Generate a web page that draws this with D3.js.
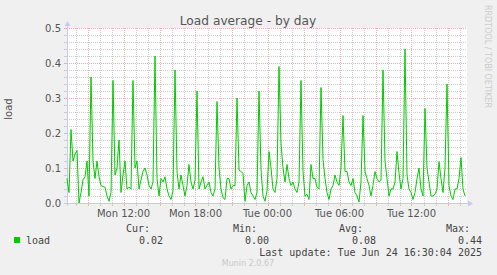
<!DOCTYPE html>
<html>
<head>
<meta charset="utf-8">
<script src="https://cdn.jsdelivr.net/npm/d3@7"></script>
<style>
  body { margin: 0; background: #f0f0f0; }
  svg { display: block; }
</style>
</head>
<body>
<script>
// load samples, one every 10 minutes
var loadValues = [
  0.07, 0.03, 0.21, 0.12, 0.14, 0.15, 0.00, 0.03, 0.066, 0.075,
  0.12, 0.02, 0.36, 0.12, 0.07, 0.12, 0.075, 0.05, 0.047, 0.045,
  0.02, 0.005, 0.03, 0.35, 0.08, 0.10, 0.18, 0.03, 0.08, 0.12,
  0.04, 0.045, 0.04, 0.35, 0.10, 0.12, 0.04, 0.066, 0.09, 0.10,
  0.08, 0.05, 0.04, 0.06, 0.42, 0.07, 0.02, 0.07, 0.06, 0.075,
  0.04, 0.02, 0.01, 0.035, 0.38, 0.09, 0.04, 0.08, 0.05, 0.02,
  0.05, 0.11, 0.06, 0.04, 0.065, 0.32, 0.04, 0.06, 0.075, 0.04,
  0.05, 0.06, 0.03, 0.02, 0.04, 0.29, 0.10, 0.04, 0.015, 0.01,
  0.07, 0.07, 0.04, 0.05, 0.05, 0.30, 0.094, 0.09, 0.085, 0.005,
  0.05, 0.06, 0.03, 0.02, 0.01, 0.03, 0.32, 0.095, 0.02, 0.005,
  0.035, 0.147, 0.10, 0.04, 0.03, 0.07, 0.39, 0.17, 0.10, 0.06,
  0.11, 0.07, 0.05, 0.06, 0.04, 0.03, 0.06, 0.35, 0.09, 0.02,
  0.025, 0.01, 0.11, 0.07, 0.07, 0.045, 0.04, 0.33, 0.125, 0.07,
  0.03, 0.01, 0.04, 0.05, 0.08, 0.06, 0.05, 0.10, 0.25, 0.09,
  0.09, 0.06, 0.05, 0.07, 0.03, 0.02, 0.003, 0.06, 0.25, 0.09,
  0.07, 0.05, 0.02, 0.05, 0.09, 0.07, 0.06, 0.065, 0.38, 0.12,
  0.07, 0.02, 0.04, 0.04, 0.06, 0.147, 0.085, 0.04, 0.07, 0.44,
  0.08, 0.04, 0.03, 0.01, 0.03, 0.07, 0.10, 0.04, 0.02, 0.27,
  0.10, 0.06, 0.02, 0.02, 0.025, 0.04, 0.118, 0.07, 0.03, 0.10,
  0.34, 0.05, 0.02, 0.01, 0.04, 0.04, 0.07, 0.13, 0.04, 0.02
];
var yTicks = [0, 0.1, 0.2, 0.3, 0.4, 0.5];
var legendHeads = ["Cur:", "Min:", "Avg:", "Max:"];
var legendValues = ["0.02", "0.00", "0.08", "0.44"];
var seriesName = "load";
var lastUpdate = "Last update: Tue Jun 24 16:30:04 2025";

var startTime = Date.UTC(2025, 5, 23, 7, 17, 30);
var stepMs = 10 * 60 * 1000;

var W = 497, H = 275;
var X0 = 67, X1 = 467, Y0 = 203, Y1 = 28;

var svg = d3.select("body").append("svg")
    .attr("width", W).attr("height", H)
    .style("font-family", "'DejaVu Sans', sans-serif");

svg.append("rect").attr("width", W).attr("height", H).attr("fill", "#f0f0f0");

var x = d3.scaleUtc()
    .domain([new Date(startTime), new Date(startTime + loadValues.length * stepMs)])
    .range([X0, X1]);
var y = d3.scaleLinear().domain([0, 0.5]).range([Y0, Y1]);

// canvas
svg.append("rect")
    .attr("x", X0).attr("y", Y1)
    .attr("width", X1 - X0).attr("height", Y0 - Y1)
    .attr("fill", "#ffffff");

var minorCol = "#cccccc", majorCol = "#e8b0b0";
var grid = svg.append("g").attr("shape-rendering", "crispEdges");

// vertical grid: minor every hour, major every 3 hours
var hours = x.ticks(d3.utcHour.every(1));
hours.forEach(function (t) {
    var major = t.getUTCHours() % 3 === 0;
    var px = Math.round(x(t)) + 0.5;
    grid.append("line")
        .attr("x1", px).attr("x2", px).attr("y1", Y1).attr("y2", Y0)
        .attr("stroke", major ? majorCol : minorCol)
        .attr("stroke-dasharray", "1,1");
    grid.append("line")
        .attr("x1", px).attr("x2", px).attr("y1", Y0).attr("y2", Y0 + 3)
        .attr("stroke", major ? majorCol : minorCol);
});

// horizontal grid: minor every 0.02, major every 0.1
d3.range(0, 26).forEach(function (k) {
    var v = k * 0.02;
    var major = k % 5 === 0;
    var py = Math.round(y(v)) + 0.5;
    grid.append("line")
        .attr("x1", X0).attr("x2", X1).attr("y1", py).attr("y2", py)
        .attr("stroke", major ? majorCol : minorCol)
        .attr("stroke-dasharray", "1,1");
    grid.append("line")
        .attr("x1", X0 - 3).attr("x2", X0).attr("y1", py).attr("y2", py)
        .attr("stroke", major ? majorCol : minorCol);
});

// axes
var axisCol = "#c8c8f4";
svg.append("line")
    .attr("x1", X0 + 0.5).attr("x2", X0 + 0.5).attr("y1", Y0 + 3).attr("y2", Y1 - 2)
    .attr("stroke", axisCol).attr("shape-rendering", "crispEdges");
svg.append("line")
    .attr("x1", X0 - 3).attr("x2", X1 + 1).attr("y1", Y0 + 0.5).attr("y2", Y0 + 0.5)
    .attr("stroke", axisCol).attr("shape-rendering", "crispEdges");
svg.append("path")
    .attr("d", "M" + (X0 - 2.5) + "," + (Y1 - 2) + "L" + (X0 + 0.5) + "," + (Y1 - 7) + "L" + (X0 + 3.5) + "," + (Y1 - 2) + "Z")
    .attr("fill", axisCol);
svg.append("path")
    .attr("d", "M" + (X1 + 1) + "," + (Y0 - 2.5) + "L" + (X1 + 6) + "," + (Y0 + 0.5) + "L" + (X1 + 1) + "," + (Y0 + 3.5) + "Z")
    .attr("fill", axisCol);

// data line
var line = d3.line()
    .x(function (d, i) { return x(new Date(startTime + i * stepMs)); })
    .y(function (d) { return y(d); });

svg.append("path")
    .datum(loadValues)
    .attr("d", line)
    .attr("fill", "none")
    .attr("stroke", "#00cc00")
    .attr("stroke-width", 1)
    .attr("stroke-linejoin", "round");

// y labels
svg.selectAll(".ylab").data(yTicks).enter().append("text")
    .attr("class", "ylab")
    .attr("x", 61).attr("y", function (d) { return y(d) + 3.5; })
    .attr("text-anchor", "end")
    .attr("font-size", 10).attr("fill", "#555")
    .text(function (d) { return d.toFixed(1); });

// x labels
var fmt = d3.utcFormat("%a %H:%M");
svg.selectAll(".xlab").data(x.ticks(d3.utcHour.every(6))).enter().append("text")
    .attr("class", "xlab")
    .attr("x", function (d) { return x(d); }).attr("y", 216.5)
    .attr("text-anchor", "middle")
    .attr("font-size", 10).attr("fill", "#555")
    .text(fmt);

// titles
svg.append("text")
    .attr("x", 248).attr("y", 24.5)
    .attr("text-anchor", "middle")
    .attr("font-size", 12.2).attr("fill", "#555")
    .text("Load average - by day");

svg.append("text")
    .attr("transform", "translate(12,109) rotate(-90)")
    .attr("text-anchor", "middle")
    .attr("font-size", 10).attr("fill", "#555")
    .text("load");

svg.append("text")
    .attr("transform", "translate(485,5) rotate(90)")
    .attr("font-size", 8).attr("fill", "#cccccc")
    .text("RRDTOOL / TOBI OETIKER");

// legend
var mono = "'DejaVu Sans Mono', monospace";
var headEnds = [150, 257, 363, 470];
var valEnds = [163, 269, 376, 482];

svg.selectAll(".lhead").data(legendHeads).enter().append("text")
    .attr("x", function (d, i) { return headEnds[i]; }).attr("y", 231.5)
    .attr("text-anchor", "end")
    .style("font-family", mono).attr("font-size", 10).attr("fill", "#444")
    .text(function (d) { return d; });

svg.selectAll(".lval").data(legendValues).enter().append("text")
    .attr("x", function (d, i) { return valEnds[i]; }).attr("y", 243.5)
    .attr("text-anchor", "end")
    .style("font-family", mono).attr("font-size", 10).attr("fill", "#444")
    .text(function (d) { return d; });

svg.append("rect")
    .attr("x", 14).attr("y", 237).attr("width", 6).attr("height", 6)
    .attr("fill", "#00cc00");

svg.append("text")
    .attr("x", 26).attr("y", 243.5)
    .style("font-family", mono).attr("font-size", 10).attr("fill", "#444")
    .text(seriesName);

svg.append("text")
    .attr("x", 482).attr("y", 255.5)
    .attr("text-anchor", "end")
    .style("font-family", mono).attr("font-size", 10).attr("fill", "#444")
    .text(lastUpdate);

svg.append("text")
    .attr("x", 248).attr("y", 266)
    .attr("text-anchor", "middle")
    .attr("font-size", 8).attr("fill", "#c8c8c8")
    .text("Munin 2.0.67");
</script>
</body>
</html>
